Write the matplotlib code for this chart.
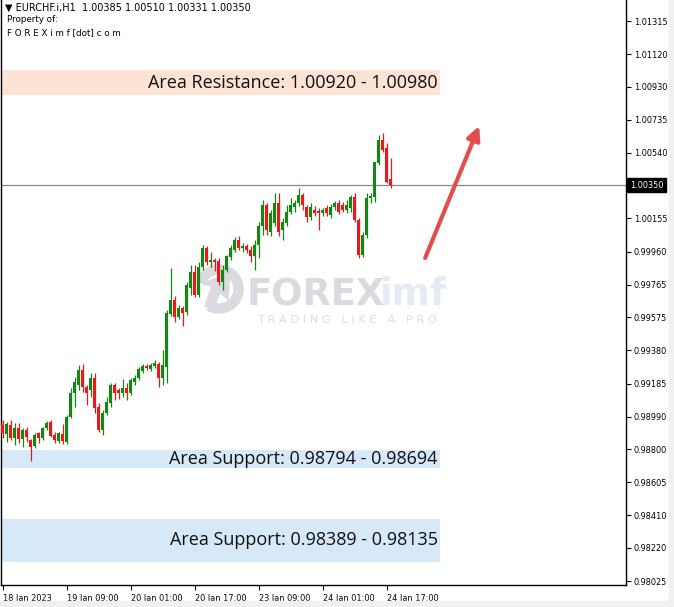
import numpy as np
import matplotlib.pyplot as plt
from matplotlib.patches import Rectangle, Wedge, Polygon
from matplotlib.transforms import Affine2D

# Dados OHLC (EURCHF H1, 18 Jan 17:00 -> 24 Jan 18:00)
abertura = [0.98942, 0.98889, 0.98942, 0.98865, 0.98924, 0.98859, 0.98912, 0.98853, 0.98818, 0.98895,
            0.98865, 0.98924, 0.98959, 0.98883, 0.98848, 0.98889, 0.98842, 0.98989, 0.99130, 0.99177,
            0.99265, 0.99165, 0.99147, 0.99218, 0.99047, 0.98912, 0.99012, 0.99071, 0.99177, 0.99147,
            0.99130, 0.99159, 0.99130, 0.99194, 0.99218, 0.99259, 0.99288, 0.99271, 0.99288, 0.99300,
            0.99218, 0.99282, 0.99594, 0.99676, 0.99576, 0.99629, 0.99606, 0.99746, 0.99840, 0.99705,
            0.99870, 0.99981, 0.99899, 0.99911, 0.99905, 0.99782, 0.99852, 0.99929, 0.99970, 1.00028,
            0.99981, 0.99993, 0.99970, 0.99935, 0.99999, 1.00111, 1.00234, 1.00075, 1.00128, 1.00246,
            1.00087, 1.00128, 1.00193, 1.00222, 1.00246, 1.00293, 1.00222, 1.00164, 1.00205, 1.00199,
            1.00187, 1.00216, 1.00175, 1.00222, 1.00246, 1.00234, 1.00205, 1.00216, 1.00281, 1.00146,
            0.99940, 1.00058, 1.00275, 1.00281, 1.00481, 1.00616, 1.00569, 1.00385]
maxima = [0.98971, 0.98959, 0.98971, 0.98953, 0.98953, 0.98924, 0.98930, 0.98859, 0.98895, 0.98900,
          0.98930, 0.98965, 0.98971, 0.98900, 0.98900, 0.98947, 0.99000, 0.99159, 0.99224, 0.99294,
          0.99300, 0.99177, 0.99247, 0.99247, 0.99071, 0.99030, 0.99106, 0.99188, 0.99188, 0.99159,
          0.99212, 0.99188, 0.99218, 0.99235, 0.99282, 0.99300, 0.99300, 0.99306, 0.99323, 0.99312,
          0.99382, 0.99617, 0.99864, 0.99699, 0.99647, 0.99641, 0.99782, 0.99882, 0.99882, 0.99899,
          0.99999, 0.99993, 0.99958, 0.99923, 0.99923, 0.99882, 0.99940, 0.99999, 1.00046, 1.00052,
          1.00011, 1.00005, 0.99993, 1.00028, 1.00134, 1.00263, 1.00246, 1.00205, 1.00305, 1.00305,
          1.00158, 1.00234, 1.00275, 1.00263, 1.00334, 1.00305, 1.00234, 1.00246, 1.00228, 1.00216,
          1.00216, 1.00234, 1.00240, 1.00258, 1.00263, 1.00252, 1.00263, 1.00293, 1.00305, 1.00158,
          1.00075, 1.00305, 1.00305, 1.00293, 1.00645, 1.00657, 1.00598, 1.00510]
minima = [0.98865, 0.98842, 0.98853, 0.98824, 0.98836, 0.98812, 0.98842, 0.98730, 0.98806, 0.98836,
          0.98853, 0.98912, 0.98871, 0.98836, 0.98836, 0.98830, 0.98830, 0.98983, 0.99047, 0.99147,
          0.99135, 0.99059, 0.99106, 0.99012, 0.98900, 0.98883, 0.99000, 0.99047, 0.99088, 0.99094,
          0.99106, 0.99088, 0.99118, 0.99177, 0.99206, 0.99247, 0.99265, 0.99259, 0.99276, 0.99165,
          0.99177, 0.99188, 0.99582, 0.99547, 0.99564, 0.99523, 0.99588, 0.99705, 0.99693, 0.99693,
          0.99852, 0.99882, 0.99870, 0.99846, 0.99764, 0.99735, 0.99840, 0.99911, 0.99958, 0.99970,
          0.99958, 0.99952, 0.99899, 0.99852, 0.99923, 1.00058, 1.00058, 1.00052, 1.00111, 1.00052,
          1.00028, 1.00111, 1.00181, 1.00193, 1.00228, 1.00205, 1.00134, 1.00146, 1.00169, 1.00087,
          1.00169, 1.00169, 1.00158, 1.00205, 1.00181, 1.00193, 1.00187, 1.00193, 1.00134, 0.99923,
          0.99929, 1.00040, 1.00246, 1.00252, 1.00469, 1.00546, 1.00363, 1.00331]
fechamento = [0.98895, 0.98947, 0.98865, 0.98924, 0.98859, 0.98912, 0.98871, 0.98812, 0.98883, 0.98865,
              0.98924, 0.98953, 0.98877, 0.98853, 0.98895, 0.98848, 0.98989, 0.99130, 0.99194, 0.99265,
              0.99165, 0.99130, 0.99218, 0.99041, 0.98912, 0.99012, 0.99077, 0.99177, 0.99130, 0.99130,
              0.99159, 0.99130, 0.99206, 0.99218, 0.99271, 0.99288, 0.99276, 0.99294, 0.99306, 0.99218,
              0.99294, 0.99600, 0.99676, 0.99576, 0.99629, 0.99600, 0.99764, 0.99840, 0.99705, 0.99870,
              0.99981, 0.99899, 0.99911, 0.99899, 0.99782, 0.99852, 0.99935, 0.99981, 1.00028, 0.99981,
              0.99993, 0.99970, 0.99935, 0.99999, 1.00111, 1.00234, 1.00087, 1.00187, 1.00246, 1.00075,
              1.00134, 1.00193, 1.00234, 1.00246, 1.00293, 1.00234, 1.00164, 1.00222, 1.00187, 1.00187,
              1.00205, 1.00187, 1.00222, 1.00246, 1.00193, 1.00205, 1.00234, 1.00281, 1.00146, 0.99940,
              1.00058, 1.00275, 1.00287, 1.00487, 1.00616, 1.00557, 1.00369, 1.00350]

rotulos_x = ['18 Jan 2023', '19 Jan 09:00', '20 Jan 01:00', '20 Jan 17:00',
             '23 Jan 09:00', '24 Jan 01:00', '24 Jan 17:00']
barras_x = [0, 16, 32, 48, 64, 80, 96]
niveis_y = [1.01315, 1.01120, 1.00930, 1.00735, 1.00540, 1.00155, 0.99960, 0.99765, 0.99575,
            0.99380, 0.99185, 0.98990, 0.98800, 0.98605, 0.98410, 0.98220, 0.98025]

preco_atual = 1.00350
areas = [(1.00880, 1.01027, '#fde3d4', 'Area Resistance: 1.00920 - 1.00980'),
         (0.98689, 0.98795, '#d7e8f8', 'Area Support: 0.98794 - 0.98694'),
         (0.98137, 0.98389, '#d7e8f8', 'Area Support: 0.98389 - 0.98135')]
seta_inicio = (105.6, 0.99923)
seta_fim = (119.1, 1.00698)

VERDE = '#118811'
VERMELHO = '#e8191c'
CINZA_MARCA = '#dadbe0'

W, H = 674, 607
fig = plt.figure(figsize=(W / 100, H / 100), dpi=100)
fig.patch.set_facecolor('white')
ax = fig.add_axes([1 / W, 22 / H, 625 / W, 585 / H])

# areas de suporte / resistencia
for (lo, hi, cor, texto) in areas:
    ax.axhspan(lo, hi, xmin=0, xmax=0.7024, color=cor, lw=0, zorder=0)
    ax.text(108.8, (lo + hi) / 2, texto, ha='right', va='center', fontsize=13,
            family='Open Sans', color='#111111', zorder=5)

# marca d'agua (atras dos candles)
ax.text(0.3936, 0.4786, 'FOREX', transform=ax.transAxes, fontsize=26.5, fontweight='bold',
        color=CINZA_MARCA, ha='left', va='baseline', zorder=1)
ax.text(0.606, 0.4786, 'imf', transform=ax.transAxes, fontsize=26.5, fontweight='bold',
        color='#e3ebf3', ha='left', va='baseline', zorder=1)
ax.text(0.4096, 0.448, 'T R A D I N G   L I K E   A   P R O', transform=ax.transAxes,
        fontsize=8.2, color='#dcdde2', ha='left', va='baseline', zorder=1)
px = Affine2D().scale(1, -1).translate(0, H)
ax.add_patch(Wedge((219, 289), 24, 200, 120, width=9, color=CINZA_MARCA,
                   transform=px, zorder=1))
ax.add_patch(Polygon([(205, 306), (212, 286), (202, 284), (230, 272), (228, 300),
                      (220, 292), (214, 308)], closed=True, color=CINZA_MARCA,
                     transform=px, zorder=1))

# linha do preco atual
ax.axhline(preco_atual, color='#7d8894', lw=0.9, zorder=2)

# candles
x = np.arange(len(abertura))
o = np.array(abertura)
c = np.array(fechamento)
cores = [VERDE if fc >= ab else VERMELHO for ab, fc in zip(o, c)]
ax.vlines(x, minima, maxima, colors=cores, lw=0.9, zorder=3)
base = np.minimum(o, c)
altura = np.maximum(np.abs(c - o), 0.00004)
ax.bar(x, altura, bottom=base, width=0.75, color=cores, lw=0, zorder=4)

# seta
ax.annotate('', xy=seta_fim, xytext=seta_inicio,
            arrowprops=dict(arrowstyle='-|>', color='#e24d4d', lw=3,
                            mutation_scale=20, shrinkA=0, shrinkB=0), zorder=6)

ax.set_xlim(-0.425, 155.8)
ax.set_ylim(0.980015, 1.014384)

ax.set_xticks(barras_x)
ax.set_xticklabels(rotulos_x, fontsize=5.9, family='DejaVu Sans')
for lab in ax.get_xticklabels():
    lab.set_ha('left')
ax.yaxis.tick_right()
ax.set_yticks(niveis_y)
ax.set_yticklabels(['%.5f' % v for v in niveis_y], fontsize=5.9, family='DejaVu Sans')
ax.tick_params(axis='both', direction='out', length=3.5, width=0.8, color='black', pad=2)
ax.tick_params(axis='x', pad=3)

ax.text(1.006, preco_atual, '%.5f' % preco_atual, transform=ax.get_yaxis_transform(),
        ha='left', va='center', fontsize=5.9, color='white', clip_on=False,
        bbox=dict(boxstyle='square,pad=0.3', fc='black', ec='black'))

for lado in ['left', 'right', 'bottom']:
    ax.spines[lado].set_color('black')
    ax.spines[lado].set_linewidth(1)
ax.spines['top'].set_visible(False)

# cabecalho
fig.text(5 / W, 1 - 8 / H, '\u25bc EURCHF.i,H1  1.00385 1.00510 1.00331 1.00350',
         fontsize=7, va='center', ha='left', family='DejaVu Sans')
fig.text(7 / W, 1 - 20 / H, 'Property of:', fontsize=6.3, va='center', ha='left')
fig.text(7 / W, 1 - 33 / H, 'F O R E X i m f [dot] c o m', fontsize=6.3, va='center', ha='left')

# barras cinza das bordas
fig.patches.append(Rectangle((0, 0), 1, 6 / H, transform=fig.transFigure,
                             color='#f0f0f0', zorder=0))
fig.patches.append(Rectangle((669 / W, 0), 5 / W, 1, transform=fig.transFigure,
                             color='#f0f0f0', zorder=0))

fig.savefig('out.png', dpi=100)
